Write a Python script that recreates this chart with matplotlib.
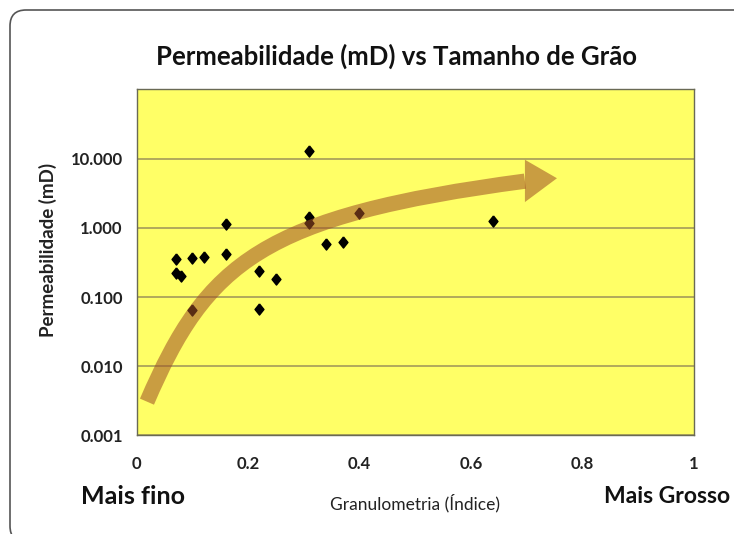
import matplotlib
matplotlib.use('Agg')
import matplotlib.pyplot as plt
from matplotlib.path import Path
from matplotlib.patches import PathPatch, Polygon, FancyBboxPatch
from matplotlib.transforms import IdentityTransform

plt.rcParams['font.family'] = ['Lato', 'DejaVu Sans']

# dados
granulometria = [0.07, 0.07, 0.08, 0.10, 0.12, 0.16, 0.16, 0.22, 0.25, 0.22,
                 0.10, 0.31, 0.31, 0.31, 0.34, 0.37, 0.40, 0.64]
permeabilidade = [0.35, 0.225, 0.20, 0.37, 0.38, 1.13, 0.42, 0.238, 0.18, 0.067,
                  0.064, 12.9, 1.41, 1.16, 0.58, 0.62, 1.61, 1.25]

y_ticks = [0.001, 0.01, 0.1, 1, 10]
y_labels = ['0.001', '0.010', '0.100', '1.000', '10.000']
x_ticks = [0, 0.2, 0.4, 0.6, 0.8, 1]
x_labels = ['0', '0.2', '0.4', '0.6', '0.8', '1']

# seta (tendência) em coordenadas de dados
seta_x = [0.0185, 0.1262, 0.2259, 0.697]
seta_y = [0.00308, 0.321, 1.475, 4.71]
cabeca_x = [0.697, 0.7545, 0.697]
cabeca_y = [9.6, 5.19, 2.35]

fig = plt.figure(figsize=(7.34, 5.34), dpi=100)
ax = fig.add_axes([0.1862, 0.1845, 0.7589, 0.6483])
ax.set_facecolor('#ffff66')

ax.set_yscale('log')
ax.set_xlim(0, 1)
ax.set_ylim(0.001, 100)
ax.yaxis.grid(True, color='#aba25a', linewidth=1.3)
ax.set_axisbelow(True)
ax.minorticks_off()
ax.set_yticks(y_ticks)
ax.set_yticklabels(y_labels, fontweight='bold', fontsize=12, color='#222222')
ax.set_xticks(x_ticks)
ax.set_xticklabels(x_labels, fontweight='bold', fontsize=12, color='#222222')
ax.tick_params(length=0)
ax.tick_params(axis='x', pad=15)
ax.tick_params(axis='y', pad=10)
for s in ax.spines.values():
    s.set_color('#6a6a55')
    s.set_linewidth(1.0)

# marcadores em losango
losango = [(0, 1), (0.8, 0), (0, -1), (-0.8, 0), (0, 1)]
ax.plot(granulometria, permeabilidade, linestyle='none', marker=losango,
        markersize=8, color='black', zorder=3)

# seta curva
corpo = Path(list(zip(seta_x, seta_y)),
             [Path.MOVETO, Path.CURVE4, Path.CURVE4, Path.CURVE4])
ax.add_patch(PathPatch(corpo, facecolor='none', edgecolor='#a05024',
                       linewidth=11, alpha=0.56, capstyle='butt', zorder=4))
ax.add_patch(Polygon(list(zip(cabeca_x, cabeca_y)), closed=True,
                     facecolor='#a05024', edgecolor='none', alpha=0.56, zorder=4))

fig.text(48 / 734, 1 - 250 / 534, 'Permeabilidade (mD)', rotation=90,
         ha='center', va='center', fontweight='bold', fontsize=13.5,
         color='#222222')

fig.text(0.54, 0.895, 'Permeabilidade (mD) vs Tamanho de Grão', ha='center',
         va='center', fontsize=18.5, fontweight='bold', color='#111111')
fig.text(0.566, 0.058, 'Granulometria (Índice)', ha='center', va='center',
         fontsize=12.5, color='#222222')
fig.text(0.181, 0.07, 'Mais fino', ha='center', va='center', fontsize=18,
         fontweight='bold', color='#111111')
fig.text(730 / 734, 0.07, 'Mais Grosso', ha='right', va='center', fontsize=16.5,
         fontweight='bold', color='#111111')

# moldura arredondada
fig.patches.append(FancyBboxPatch((10, -8), 745, 532,
                                  boxstyle='round,pad=0,rounding_size=16',
                                  transform=IdentityTransform(), facecolor='none',
                                  edgecolor='#555555', linewidth=1.2, figure=fig))

fig.savefig('out.png', dpi=100)
